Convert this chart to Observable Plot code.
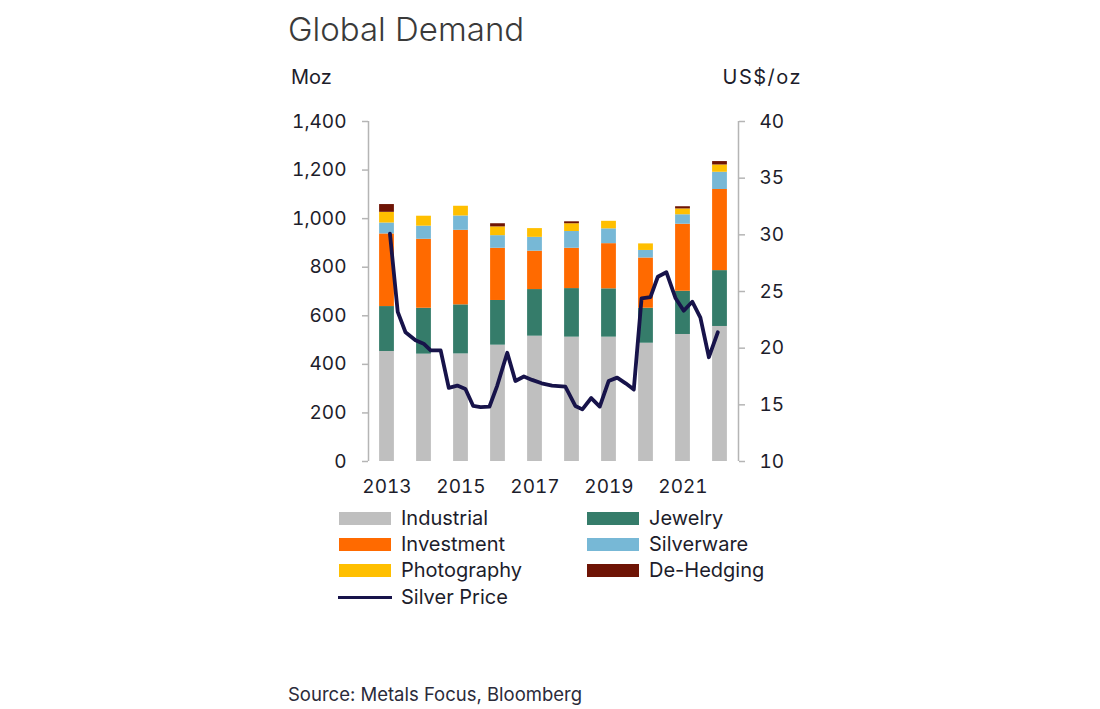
<!DOCTYPE html>
<html><head><meta charset="utf-8">
<script src="https://cdn.jsdelivr.net/npm/d3@7"></script>
<script src="https://cdn.jsdelivr.net/npm/@observablehq/plot@0.6"></script>
<style>
body{margin:0;background:#fff;font-family:Inter,"Noto Sans",sans-serif;color:#1d1d2b;}
#wrap{position:relative;width:1100px;height:709px;overflow:hidden;background:#fff}
#chart{position:absolute;left:0;top:60px}
.abs{position:absolute;white-space:nowrap;line-height:1}
.title{left:288px;top:13px;font-size:33px;font-weight:300;color:#3a3a3a}
.unit{top:67px;font-size:20px}
.leg{position:absolute;display:flex;align-items:center;font-size:20px;white-space:nowrap}
.sw{width:52px;height:13px;margin-right:10px}
.ln{width:54px;height:3px;margin-right:9px}
.src{left:288px;top:685px;font-size:18.5px;color:#2b2b3a}
</style></head>
<body><div id="wrap">
<div class="abs title">Global Demand</div>
<div class="abs unit" style="left:291px">Moz</div>
<div class="abs unit" style="right:298px;letter-spacing:1.5px">US$/oz</div>
<div id="chart"></div>
<div id="legend"></div>
<div class="abs src">Source: Metals Focus, Bloomberg</div>
</div>
<script>
// ---- data ----
const years = [2013,2014,2015,2016,2017,2018,2019,2020,2021,2022];
const industrial  = [453,442,443,479,516,512,512,487,523,556];
const jewelry     = [185,189,202,184,192,200,199,144,178,230];
const investment  = [299,284,307,215,158,166,186,207,276,334];
const silverware  = [45,54,59,52,57,69,61,31,39,71];
const photography = [44,41,40,36,36,32,31,27,24,30];
const deHedging   = [32,0,0,13,0,8,0,0,9,14];
const seriesNames = ["Industrial","Jewelry","Investment","Silverware","Photography","De-Hedging"];
const seriesColors = ["#bfbfbf","#357c6a","#ff6a00","#77b8d6","#ffbf00","#6e1405"];

// silver price (US$/oz), positions as fractional years
const priceTime = [2013.08,2013.29,2013.50,2013.77,2013.99,2014.18,2014.45,2014.67,2014.90,2015.12,
  2015.33,2015.53,2015.77,2015.98,2016.25,2016.47,2016.70,2016.92,2017.18,2017.46,
  2017.82,2018.09,2018.28,2018.52,2018.75,2018.99,2019.22,2019.45,2019.67,2019.88,
  2020.12,2020.32,2020.55,2020.80,2021.02,2021.25,2021.47,2021.70,2021.94];
const price = [30.1,23.2,21.4,20.7,20.4,19.8,19.8,16.5,16.7,16.4,
  14.9,14.8,14.85,16.7,19.6,17.1,17.5,17.2,16.9,16.7,
  16.6,14.9,14.6,15.6,14.85,17.1,17.4,16.9,16.35,24.4,
  24.5,26.3,26.7,24.4,23.3,24.1,22.7,19.2,21.4];

const xTicks = [2013,2015,2017,2019,2021];
const mozTicks = [0,200,400,600,800,1000,1200,1400];
const priceTicks = [10,15,20,25,30,35,40];

// ---- build tables ----
const seriesValues = [industrial,jewelry,investment,silverware,photography,deHedging];
const rows = [];
years.forEach((yr,i)=>{
  let acc = 0;
  seriesNames.forEach((s,k)=>{
    const v = seriesValues[k][i];
    if (v > 0) rows.push({year:yr, series:s, y1:acc, y2:acc+v});
    acc += v;
  });
});
const toMoz = p => (p - 10) * 1400 / 30;
const priceRows = priceTime.map((t,i)=>({t, moz: toMoz(price[i])}));
const xDomain = [2012.5, 2022.5];
const axisColor = "#b5b5b5";

const chart = Plot.plot({
  width: 1100, height: 470,
  marginLeft: 368, marginRight: 362, marginTop: 61, marginBottom: 69,
  style: {fontFamily: "Inter, 'Noto Sans', sans-serif", fontSize: "19px", color: "#1d1d2b", background: "transparent", overflow: "visible"},
  x: {type: "linear", domain: xDomain, axis: null},
  y: {domain: [0,1400], axis: null},
  color: {domain: seriesNames, range: seriesColors},
  marks: [
    Plot.rect(rows, {x1: d => d.year - 0.2, x2: d => d.year + 0.2, y1: "y1", y2: "y2", fill: "series"}),
    Plot.line(priceRows, {x: "t", y: "moz", stroke: "#17134a", strokeWidth: 3.8, strokeLinejoin: "round", strokeLinecap: "round"}),
    Plot.ruleX(xDomain, {stroke: axisColor, strokeWidth: 1.5}),
    Plot.axisY({anchor: "left", ticks: mozTicks, tickFormat: d3.format(","), tickSize: 6, tickPadding: 16, stroke: axisColor, strokeWidth: 1.5, label: null, fontSize: 19}),
    Plot.axisY({anchor: "right", ticks: priceTicks.map(toMoz), tickFormat: v => String(Math.round(v*30/1400 + 10)), tickSize: 6, tickPadding: 15, stroke: axisColor, strokeWidth: 1.5, label: null, fontSize: 19}),
    Plot.axisX({ticks: xTicks, tickFormat: d => String(d), tickSize: 0, tickPadding: 18, label: null, fontSize: 19})
  ]
});
document.getElementById("chart").appendChild(chart);

// ---- legend ----
const legendItems = [
  {name:"Industrial", col:0, row:0}, {name:"Jewelry", col:1, row:0},
  {name:"Investment", col:0, row:1}, {name:"Silverware", col:1, row:1},
  {name:"Photography", col:0, row:2}, {name:"De-Hedging", col:1, row:2}
];
const legend = document.getElementById("legend");
const colX = [339, 587], rowY = [518, 544, 570, 597];
legendItems.forEach(it=>{
  const d = document.createElement("div");
  d.className = "leg";
  d.style.left = colX[it.col] + "px";
  d.style.top = (rowY[it.row] - 12) + "px";
  d.style.height = "24px";
  const c = seriesColors[seriesNames.indexOf(it.name)];
  d.innerHTML = `<span class="sw" style="background:${c}"></span><span>${it.name}</span>`;
  legend.appendChild(d);
});
const lp = document.createElement("div");
lp.className = "leg";
lp.style.left = "338px"; lp.style.top = (rowY[3]-12) + "px"; lp.style.height = "24px";
lp.innerHTML = `<span class="ln" style="background:#17134a"></span><span>Silver Price</span>`;
legend.appendChild(lp);
</script>
</body></html>
